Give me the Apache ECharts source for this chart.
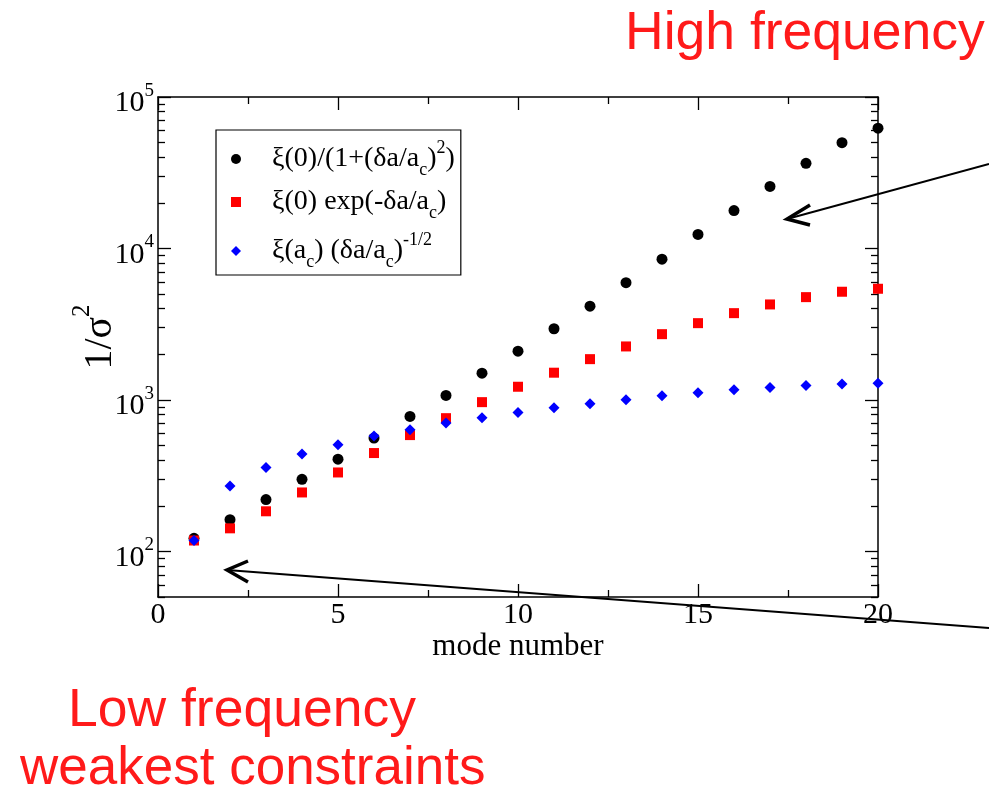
<!DOCTYPE html>
<html><head><meta charset="utf-8">
<script src="https://cdn.jsdelivr.net/npm/echarts@6/dist/echarts.min.js"></script>
<style>html,body{margin:0;padding:0;background:#fff}#c{width:989px;height:790px}</style>
</head><body><div id="c"></div>
<script>
// ---- data ----
const modeNumbers = [1,2,3,4,5,6,7,8,9,10,11,12,13,14,15,16,17,18,19,20];
const lorentzian  = [122,162,220,299,406,560,778,1071,1503,2098,2951,4159,5940,8500,12370,17800,25700,36500,49900,62300];
const exponential = [118,142,184,245,332,446,586,758,967,1222,1513,1859,2255,2718,3213,3741,4270,4772,5180,5420];
const powerLaw    = [118,270,358,439,506,577,636,703,763,827,889,944,1003,1066,1116,1167,1209,1247,1272,1291];
const seriesNames = ['xi0_lorentz','xi0_exp','xiac_power'];
const legendLabels = [
  '{sp| }{t|ξ(0)/(1+(δa/a}{sub|c}{t|)}{sup|2}{t|)}',
  '{sp| }{t|ξ(0) exp(-δa/a}{sub|c}{t|)}',
  '{sp| }{t|ξ(a}{sub|c}{t|) (δa/a}{sub|c}{t|)}{sup|-1/2}'
];
const xTicks = [0,5,10,15,20];
const yMajorTicks = [100,1000,10000,100000];
const yMinorTicks = [50,60,70,80,90,200,300,400,500,600,700,800,900,2000,3000,4000,5000,6000,7000,8000,9000,20000,30000,40000,50000,60000,70000,80000,90000];
const yRange = [50,100000];
const xTitle = 'mode number';
const yTitle = '{n|1/σ}{s|2}';
const annotations = ['High frequency','Low frequency','weakest constraints'];

// ---- chart ----
const serif = '"Liberation Serif","Times New Roman",serif';
const sans = '"Liberation Sans",Arial,Helvetica,sans-serif';
const majorLen = 13, minorLen = 7;
const lineW = 1.5;

function xAx(pos, main){
  return {
    type:'value', position:pos, gridIndex:0,
    min:xTicks[0], max:xTicks[xTicks.length-1], interval:xTicks[1]-xTicks[0],
    axisLine:{show:true, onZero:false, lineStyle:{color:'#000', width:lineW}},
    axisTick:{show:true, inside:true, length:majorLen, lineStyle:{color:'#000', width:1.3}},
    minorTick:{show:true, splitNumber:2, length:minorLen, lineStyle:{color:'#000', width:1.3}},
    axisLabel:{show:main, margin:3, fontFamily:serif, fontSize:30, color:'#000'},
    splitLine:{show:false}, minorSplitLine:{show:false},
    name: main ? xTitle : '', nameLocation:'middle', nameGap:34, nameMoveOverlap:false,
    nameTextStyle:{fontFamily:serif, fontSize:31, color:'#000'}
  };
}
function yAx(pos, values, len, showLabel, showLine, withName){
  return {
    type:'log', logBase:10, position:pos, gridIndex:0,
    min:yRange[0], max:yRange[1],
    axisLine:{show:showLine, onZero:false, lineStyle:{color:'#000', width:lineW}},
    axisTick:{show:true, inside:true, length:len, customValues:values, lineStyle:{color:'#000', width:1.3}},
    minorTick:{show:false},
    axisLabel:{show:showLabel, customValues:values, margin:4, padding:[6,0,0,0],
      formatter:function(v){ return '{b|10}{s|' + Math.round(Math.log10(v)) + '}'; },
      rich:{
        b:{fontFamily:serif, fontSize:30, lineHeight:37, verticalAlign:'bottom', color:'#000'},
        s:{fontFamily:serif, fontSize:19, lineHeight:19, verticalAlign:'top', color:'#000'}
      }},
    splitLine:{show:false}, minorSplitLine:{show:false},
    name: withName ? yTitle : '', nameLocation:'middle', nameRotate:90, nameGap:38, nameMoveOverlap:false,
    nameTextStyle:{color:'#000', padding:[0,0,0,20], rich:{
      n:{fontFamily:serif, fontSize:40, lineHeight:50, verticalAlign:'bottom', color:'#000'},
      s:{fontFamily:serif, fontSize:25, lineHeight:25, verticalAlign:'top', color:'#000'}
    }}
  };
}

function pairs(ys){ return modeNumbers.map((x,i)=>[x, ys[i]]); }

const chart = echarts.init(document.getElementById('c'));
const option = {
  backgroundColor:'#fff',
  animation:false,
  grid:{left:158, right:111, top:97, bottom:193, containLabel:false},
  xAxis:[ xAx('bottom', true), xAx('top', false) ],
  yAxis:[
    yAx('left', yMajorTicks, majorLen, true, true, true),
    yAx('left', yMinorTicks, minorLen, false, false, false),
    yAx('right', yMajorTicks, majorLen, false, true, false),
    yAx('right', yMinorTicks, minorLen, false, false, false)
  ],
  legend:{
    orient:'vertical', left:216, top:130, padding:[9,6,4,15],
    itemGap:9, itemWidth:10, itemHeight:10,
    borderColor:'#000', borderWidth:1.2, borderRadius:0,
    selectedMode:false,
    data:[
      {name:seriesNames[0], icon:'circle'},
      {name:seriesNames[1], icon:'rect'},
      {name:seriesNames[2], icon:'diamond'}
    ],
    formatter:function(name){ return legendLabels[seriesNames.indexOf(name)]; },
    textStyle:{fontFamily:serif, fontSize:28, color:'#000', rich:{
      sp:{width:26, fontSize:10, lineHeight:40},
      t:{fontFamily:serif, fontSize:28, lineHeight:40, verticalAlign:'middle', color:'#000'},
      sub:{fontFamily:serif, fontSize:18, lineHeight:18, verticalAlign:'bottom', color:'#000'},
      sup:{fontFamily:serif, fontSize:18, lineHeight:18, verticalAlign:'top', color:'#000'}
    }}
  },
  series:[
    {name:seriesNames[0], type:'scatter', data:pairs(lorentzian), symbol:'circle', symbolSize:11, itemStyle:{color:'#000000', opacity:1}},
    {name:seriesNames[1], type:'scatter', data:pairs(exponential), symbol:'rect', symbolSize:10, itemStyle:{color:'#ff0000', opacity:1}},
    {name:seriesNames[2], type:'scatter', data:pairs(powerLaw), symbol:'diamond', symbolSize:11, itemStyle:{color:'#0000ff', opacity:1}}
  ],
  graphic:[
    {type:'text', z:100, style:{text:annotations[0], x:625, y:34, fill:'#ff1a1a', font:'53.5px ' + sans, verticalAlign:'middle'}},
    {type:'text', z:100, style:{text:annotations[1], x:68, y:711, fill:'#ff1a1a', font:'53.5px ' + sans, verticalAlign:'middle'}},
    {type:'text', z:100, style:{text:annotations[2], x:20, y:769, fill:'#ff1a1a', font:'53px ' + sans, verticalAlign:'middle'}},
    {type:'line', z:100, shape:{x1:989, y1:164, x2:787, y2:219}, style:{stroke:'#000', lineWidth:2}},
    {type:'polyline', z:100, shape:{points:[[810,205],[787,219],[810,225]]}, style:{stroke:'#000', lineWidth:3.5, fill:null}},
    {type:'line', z:100, shape:{x1:989, y1:628, x2:227, y2:570}, style:{stroke:'#000', lineWidth:2}},
    {type:'polyline', z:100, shape:{points:[[248,561],[227,570],[248,582]]}, style:{stroke:'#000', lineWidth:3.5, fill:null}}
  ]
};
chart.setOption(option);
</script></body></html>
